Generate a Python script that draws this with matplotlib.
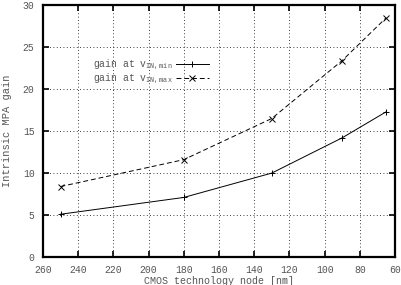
import matplotlib
matplotlib.use('Agg')
import matplotlib.pyplot as plt

# CMOS technology nodes [nm] and intrinsic MPA gain
nodes = [250, 180, 130, 90, 65]
gain_min = [5.1, 7.1, 10.0, 14.2, 17.3]
gain_max = [8.4, 11.6, 16.5, 23.4, 28.5]

xticks = [260, 240, 220, 200, 180, 160, 140, 120, 100, 80, 60]
yticks = [0, 5, 10, 15, 20, 25, 30]

plt.rcParams['font.family'] = ['Liberation Mono', 'DejaVu Sans Mono']
plt.rcParams['mathtext.fontset'] = 'custom'
plt.rcParams['mathtext.rm'] = 'Liberation Mono'
plt.rcParams['mathtext.it'] = 'Liberation Mono'
txt = '#555555'
fs = 7

fig = plt.figure(figsize=(4.01, 2.85), dpi=100)
ax = fig.add_axes([0.107, 0.098, 0.878, 0.884])

ax.plot(nodes, gain_min, color='black', lw=0.7, marker='+', ms=5, mew=0.7,
        label=r'gain at v$_{\mathrm{IN,min}}$')
ax.plot(nodes, gain_max, color='black', lw=0.7, ls=(0, (5, 3)), marker='x', ms=4, mew=0.7,
        label=r'gain at v$_{\mathrm{IN,max}}$')

ax.set_xlim(260, 60)
ax.set_ylim(0, 30)
ax.set_xticks(xticks)
ax.set_yticks(yticks)
ax.grid(True, color='black', ls=(0, (1, 3)), lw=0.6)

for s in ax.spines.values():
    s.set_linewidth(1.6)
ax.tick_params(direction='in', length=4, width=1.2, top=True, right=True,
               labelsize=fs, labelcolor=txt, pad=6)
for lab in ax.get_xticklabels() + ax.get_yticklabels():
    lab.set_clip_on(False)

ax.set_xlabel('CMOS technology node [nm]', fontsize=7.2, color=txt, labelpad=0.5)
ax.set_ylabel('Intrinsic MPA gain', fontsize=7.5, color=txt, labelpad=8)

leg = ax.legend(loc='upper right', bbox_to_anchor=(0.485, 0.81), frameon=False,
                markerfirst=False, fontsize=fs, handlelength=3.4,
                handletextpad=0.35, labelspacing=-0.05, borderpad=0)
for t in leg.get_texts():
    t.set_color(txt)

fig.savefig('out.png', dpi=100)
